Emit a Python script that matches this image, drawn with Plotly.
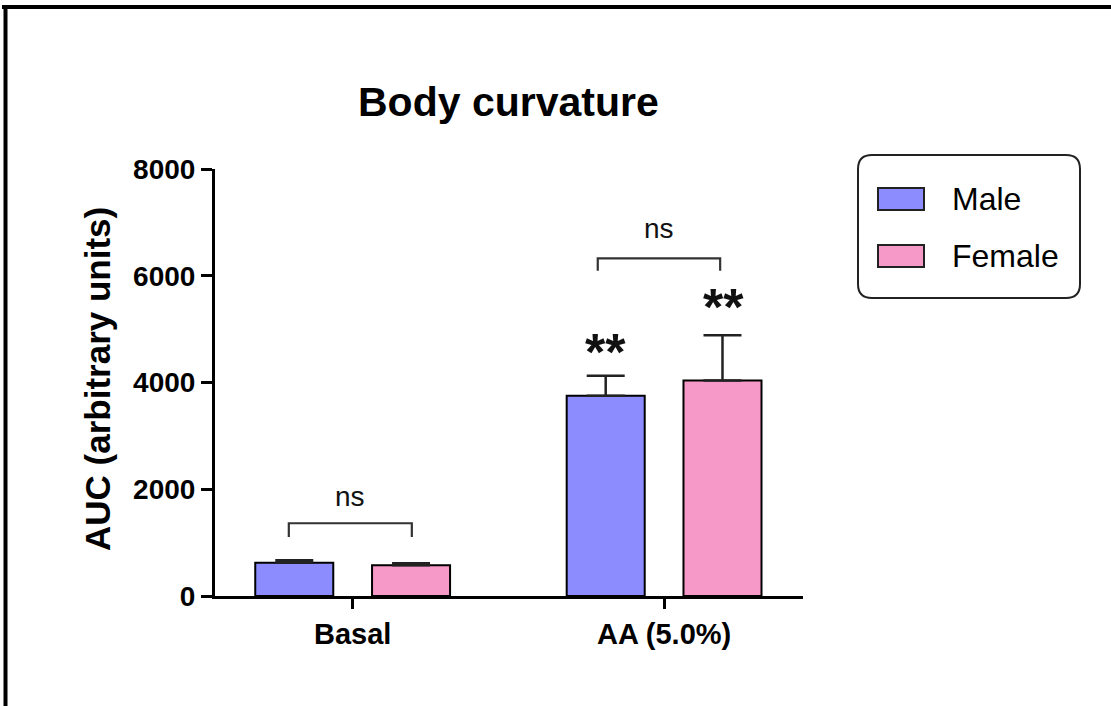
import plotly.graph_objects as go

# ---- data ----
categories = ["Basal", "AA (5.0%)"]
male_values = [624, 3750]
male_sem = [45, 375]
female_values = [576, 4037]
female_sem = [37, 850]
y_ticks = [0, 2000, 4000, 6000, 8000]

# significance brackets
bracket_x0 = [-0.205, 0.787]
bracket_x1 = [0.19, 1.18]
bracket_y = [1363, 6324]
bracket_leg_y = [1106, 6094]
bracket_label = ["ns", "ns"]
bracket_label_y = [1862, 6881]

# stars above bars
star_x = [0.813, 1.19]
star_y = [4580, 5420]
star_text = ["**", "**"]

MALE_COLOR = "#8C8CFF"
FEMALE_COLOR = "#F799C8"
FONT = "Liberation Sans"

W, H = 1111, 706
L, R, T, B = 215, 803, 169, 596  # plot-area pixel edges


def px(X):
    return (X - L) / (R - L)


def py(Y):
    return (B - Y) / (B - T)


fig = go.Figure()
fig.add_trace(go.Bar(
    x=categories, y=male_values, name="Male",
    marker=dict(color=MALE_COLOR, line=dict(color="black", width=2)),
    error_y=dict(type="data", symmetric=False, array=male_sem,
                 arrayminus=[0, 0], color="#222", thickness=2.5, width=19),
    showlegend=False,
))
fig.add_trace(go.Bar(
    x=categories, y=female_values, name="Female",
    marker=dict(color=FEMALE_COLOR, line=dict(color="black", width=2)),
    error_y=dict(type="data", symmetric=False, array=female_sem,
                 arrayminus=[0, 0], color="#222", thickness=2.5, width=19),
    showlegend=False,
))

shapes = []
annotations = []

for x0, x1, yb, yl, lab, ly in zip(bracket_x0, bracket_x1, bracket_y,
                                     bracket_leg_y, bracket_label, bracket_label_y):
    shapes.append(dict(type="path", xref="x", yref="y",
                       path=f"M {x0},{yl} L {x0},{yb} L {x1},{yb} L {x1},{yl}",
                       line=dict(color="#333", width=2.2)))
    annotations.append(dict(x=(x0 + x1) / 2, y=ly, xref="x", yref="y", text=lab,
                            showarrow=False, yanchor="middle",
                            font=dict(family=FONT, size=28, color="#111")))

for sx, sy, st in zip(star_x, star_y, star_text):
    annotations.append(dict(x=sx, y=sy, xref="x", yref="y", text=st,
                            showarrow=False, yanchor="middle",
                            font=dict(family=FONT, size=52, color="#111", weight="bold")))

# title
annotations.append(dict(x=px(508), y=py(102), xref="paper", yref="paper",
                        text="Body curvature", showarrow=False, yanchor="middle",
                        font=dict(family=FONT, size=41, color="black", weight="bold")))
# y-axis title
annotations.append(dict(x=px(97), y=py(379), xref="paper", yref="paper",
                        text="AUC (arbitrary units)", textangle=-90, showarrow=False,
                        xanchor="center", yanchor="middle",
                        font=dict(family=FONT, size=35, color="black", weight="bold")))

# custom legend box (rounded)
bx0, bx1, by0, by1, r = 858, 1080, 155, 298, 14
path = (f"M {px(bx0 + r)},{py(by0)} L {px(bx1 - r)},{py(by0)} "
        f"Q {px(bx1)},{py(by0)} {px(bx1)},{py(by0 + r)} "
        f"L {px(bx1)},{py(by1 - r)} Q {px(bx1)},{py(by1)} {px(bx1 - r)},{py(by1)} "
        f"L {px(bx0 + r)},{py(by1)} Q {px(bx0)},{py(by1)} {px(bx0)},{py(by1 - r)} "
        f"L {px(bx0)},{py(by0 + r)} Q {px(bx0)},{py(by0)} {px(bx0 + r)},{py(by0)} Z")
shapes.append(dict(type="path", xref="paper", yref="paper", path=path,
                   line=dict(color="#222", width=2), fillcolor="white"))
for name, col, y0, y1 in [("Male", MALE_COLOR, 188, 210), ("Female", FEMALE_COLOR, 245, 267)]:
    shapes.append(dict(type="rect", xref="paper", yref="paper",
                       x0=px(878), x1=px(924), y0=py(y1), y1=py(y0),
                       fillcolor=col, line=dict(color="#222", width=2)))
    annotations.append(dict(x=px(950), y=py((y0 + y1) / 2), xref="paper", yref="paper",
                            text=name, showarrow=False, xanchor="left", yanchor="middle",
                            font=dict(family=FONT, size=32, color="black")))

# page frame (top and left black borders)
shapes.append(dict(type="line", xref="paper", yref="paper",
                   x0=px(2), x1=px(1111), y0=py(7), y1=py(7),
                   line=dict(color="black", width=4)))
shapes.append(dict(type="line", xref="paper", yref="paper",
                   x0=px(5.5), x1=px(5.5), y0=py(5), y1=py(706),
                   line=dict(color="black", width=4)))

fig.update_layout(
    width=W, height=H,
    margin=dict(l=L, r=W - R, t=T, b=H - B, autoexpand=False),
    paper_bgcolor="white", plot_bgcolor="white",
    barmode="group", bargap=0.25, bargroupgap=0.332,
    shapes=shapes, annotations=annotations,
    showlegend=False,
    xaxis=dict(range=[-0.442, 1.446], showline=True, linecolor="black", linewidth=3,
               ticks="outside", ticklen=10, tickwidth=3, tickcolor="black",
               showgrid=False, zeroline=False,
               tickfont=dict(family=FONT, size=29, color="black", weight="bold")),
    yaxis=dict(range=[0, 8000], tickvals=y_ticks, showline=True, linecolor="black",
               linewidth=3, ticks="outside", ticklen=11, tickwidth=3, tickcolor="black",
               showgrid=False, zeroline=False,
               tickfont=dict(family=FONT, size=28, color="black", weight="bold")),
)

fig.write_html("out.html")
